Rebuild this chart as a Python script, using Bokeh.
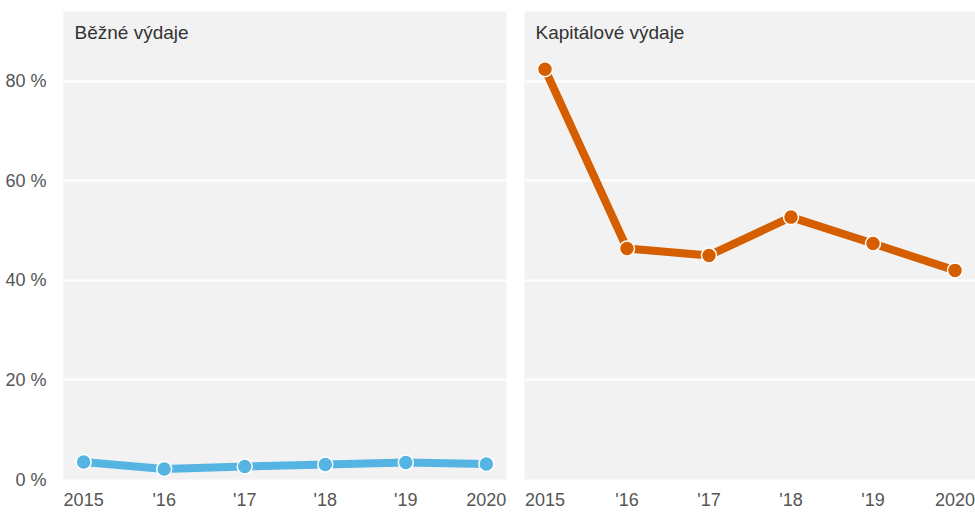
from bokeh.plotting import figure
from bokeh.layouts import row
from bokeh.models import Range1d, FixedTicker, Label, ColumnDataSource
from bokeh.embed import file_html
from bokeh.resources import INLINE

years = [2015, 2016, 2017, 2018, 2019, 2020]
x_labels = ["2015", "'16", "'17", "'18", "'19", "2020"]
bezne = [3.5, 2.1, 2.6, 3.0, 3.4, 3.1]
kapitalove = [82.4, 46.4, 45.0, 52.7, 47.4, 42.0]
y_ticks = [0, 20, 40, 60, 80]
y_labels = ["0 %", "20 %", "40 %", "60 %", "80 %"]
panels = [("Běžné výdaje", bezne, "#56B4E3"), ("Kapitálové výdaje", kapitalove, "#D55E00")]

FONT = "Liberation Sans"
BG = "#F2F2F2"
Y_MAX = 94

figs = []
for i, (title, vals, color) in enumerate(panels):
    p = figure(frame_width=443 if i == 0 else 451, frame_height=468,
               output_backend="svg", toolbar_location=None,
               x_range=Range1d(2014.75, 2020.25), y_range=Range1d(0, Y_MAX),
               min_border_top=11, min_border_right=9 if i == 0 else 0,
               min_border_left=63 if i == 0 else 9, min_border_bottom=34)
    p.background_fill_color = BG
    p.border_fill_color = "white"
    p.outline_line_color = None
    p.xgrid.grid_line_color = None
    p.ygrid.grid_line_color = "white"
    p.ygrid.grid_line_width = 2
    p.ygrid.ticker = FixedTicker(ticks=y_ticks)

    p.xaxis.ticker = FixedTicker(ticks=years)
    p.xaxis.major_label_overrides = {y: l for y, l in zip(years, x_labels)}
    p.xaxis.axis_line_color = None
    p.xaxis.major_tick_line_color = None
    p.xaxis.minor_tick_line_color = None
    p.xaxis.major_label_text_font = FONT
    p.xaxis.major_label_text_font_size = "18px"
    p.xaxis.major_label_text_color = "#555555"
    p.xaxis.major_label_standoff = 4

    p.yaxis.ticker = FixedTicker(ticks=y_ticks)
    p.yaxis.major_label_overrides = {t: l for t, l in zip(y_ticks, y_labels)}
    p.yaxis.axis_line_color = None
    p.yaxis.major_tick_line_color = None
    p.yaxis.minor_tick_line_color = None
    p.yaxis.major_label_text_font = FONT
    p.yaxis.major_label_text_font_size = "18px"
    p.yaxis.major_label_text_color = "#555555"
    p.yaxis.major_label_standoff = 11
    if i == 1:
        p.yaxis.visible = False

    src = ColumnDataSource(dict(x=years, y=vals))
    p.line("x", "y", source=src, line_color=color, line_width=8, line_join="round")
    p.scatter("x", "y", source=src, size=15, fill_color=color, line_color="white", line_width=1.5)

    p.add_layout(Label(x=2014.75, y=Y_MAX, x_offset=11, y_offset=-10, text=title,
                       text_baseline="top", text_font=FONT, text_font_size="19px",
                       text_color="#333333"))
    figs.append(p)

layout = row(*figs, spacing=0)
open("out.html", "w").write(file_html(layout, INLINE))
